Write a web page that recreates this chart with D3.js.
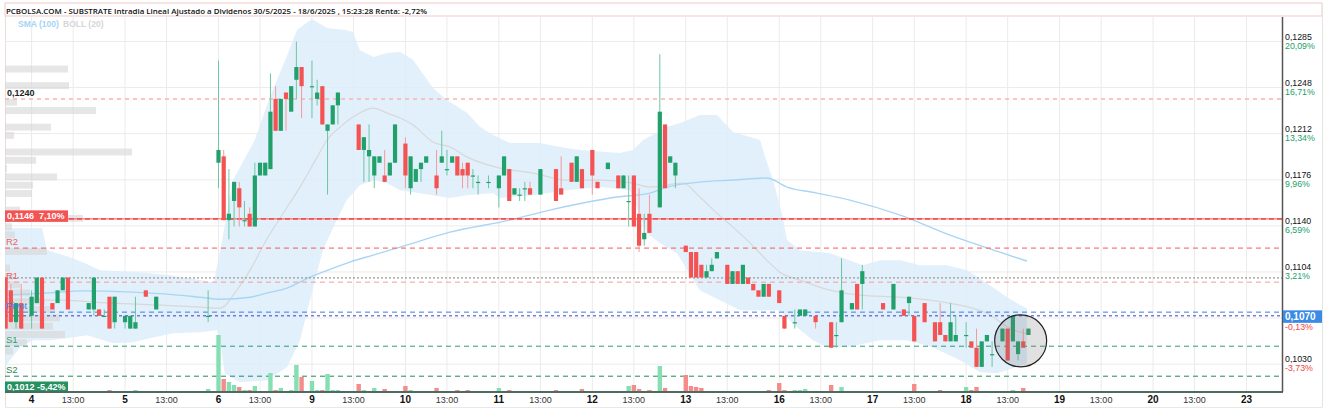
<!DOCTYPE html>
<html><head><meta charset="utf-8">
<script src="https://cdn.jsdelivr.net/npm/d3@7"></script>
<style>body{margin:0;background:#fff}svg{display:block}</style></head>
<body><svg id="c" width="1326" height="411"></svg>
<script>
// ---------- DATA ----------
const titleText = "PCBOLSA.COM - SUBSTRATE Intradia Lineal Ajustado a Dividenos 30/5/2025 - 18/6/2025 , 15:23:28 Renta: -2,72%";
const dayLabels = ["4","5","6","9","10","11","12","13","16","17","18","19","20","23"];
const slotsPerDay = 18;
const midLabel = "13:00";
const yTicks = [0.12850,0.12489,0.12128,0.11766,0.11405,0.11044,0.10683,0.10321];
const yTickLabels = ["0,1285","0,1248","0,1212","0,1176","0,1140","0,1104","0,1068","0,1030"];
const yTickPct = ["20,09%","16,71%","13,34%","9,96%","6,59%","3,21%","-0,13%","-3,73%"];
// candles: [dayIndex, slot(30 min), open, high, low, close, volume(k)]
const candles = [
[-1,13,0.1100,0.1100,0.1060,0.1060,20],[-1,14,0.1090,0.1095,0.1065,0.1065,10],[-1,15,0.1065,0.1080,0.1060,0.1080,10],[-1,16,0.1080,0.1095,0.1060,0.1060,20],
[0,0,0.1070,0.1090,0.1060,0.1085,10],[0,1,0.1080,0.1100,0.1080,0.1100,10],[0,2,0.1100,0.1100,0.1060,0.1060,10],[0,4,0.1080,0.1080,0.1075,0.1075,10],
[0,5,0.1080,0.1090,0.1080,0.1090,10],[0,6,0.1090,0.1100,0.1090,0.1100,10],[0,7,0.1100,0.1100,0.1075,0.1075,10],[0,11,0.1075,0.1080,0.1075,0.1080,10],
[0,12,0.1075,0.1100,0.1070,0.1100,10],[0,13,0.1075,0.1075,0.1070,0.1070,10],[0,14,0.1070,0.1075,0.1070,0.1070,5],[0,15,0.1085,0.1085,0.1060,0.1060,20],
[0,16,0.1065,0.1085,0.1060,0.1085,10],
[1,0,0.1065,0.1070,0.1060,0.1070,10],[1,1,0.1060,0.1070,0.1060,0.1070,10],[1,2,0.1060,0.1085,0.1060,0.1065,20],[1,4,0.1090,0.1090,0.1085,0.1085,10],
[1,6,0.1075,0.1085,0.1075,0.1085,10],[1,16,0.1070,0.1090,0.1065,0.1070,30],
[2,0,0.1190,0.1270,0.1170,0.1200,570],[2,1,0.1195,0.1200,0.1145,0.1145,130],[2,2,0.1145,0.1185,0.1130,0.1150,100],[2,3,0.1160,0.1175,0.1140,0.1175,70],
[2,4,0.1170,0.1175,0.1140,0.1155,50],[2,5,0.1145,0.1160,0.1140,0.1145,20],[2,6,0.1150,0.1155,0.1140,0.1140,20],[2,7,0.1140,0.1190,0.1140,0.1180,60],
[2,8,0.1180,0.1190,0.1180,0.1190,10],[2,9,0.1180,0.1190,0.1180,0.1190,10],[2,10,0.1185,0.1260,0.1185,0.1230,190],[2,11,0.1240,0.1250,0.1215,0.1215,20],
[2,12,0.1215,0.1240,0.1215,0.1240,40],[2,13,0.1245,0.1245,0.1215,0.1240,10],[2,14,0.1230,0.1250,0.1230,0.1250,20],[2,15,0.1255,0.1285,0.1240,0.1265,270],
[2,16,0.1265,0.1265,0.1225,0.1250,150],
[3,0,0.1250,0.1270,0.1225,0.1250,110],[3,1,0.1240,0.1255,0.1235,0.1245,20],[3,2,0.1250,0.1250,0.1220,0.1220,20],[3,3,0.1215,0.1220,0.1165,0.1220,180],
[3,4,0.1220,0.1235,0.1220,0.1235,20],[3,5,0.1235,0.1245,0.1220,0.1245,20],[3,9,0.1220,0.1220,0.1200,0.1200,80],[3,10,0.1200,0.1210,0.1175,0.1210,20],
[3,11,0.1195,0.1220,0.1175,0.1200,10],[3,12,0.1180,0.1195,0.1170,0.1195,40],[3,13,0.1190,0.1195,0.1190,0.1195,10],[3,14,0.1180,0.1200,0.1175,0.1175,30],
[3,15,0.1180,0.1190,0.1180,0.1190,10],[3,16,0.1190,0.1220,0.1190,0.1220,10],
[4,0,0.1205,0.1210,0.1170,0.1180,60],[4,1,0.1170,0.1195,0.1165,0.1195,20],[4,2,0.1175,0.1185,0.1175,0.1185,10],[4,3,0.1185,0.1190,0.1175,0.1190,10],
[4,4,0.1190,0.1195,0.1190,0.1195,10],[4,6,0.1180,0.1200,0.1165,0.1170,40],[4,7,0.1190,0.1215,0.1190,0.1195,10],[4,8,0.1185,0.1200,0.1180,0.1185,10],
[4,9,0.1190,0.1195,0.1190,0.1195,10],[4,10,0.1195,0.1195,0.1180,0.1180,20],[4,11,0.1185,0.1190,0.1170,0.1180,10],[4,12,0.1190,0.1190,0.1170,0.1180,20],
[4,13,0.1180,0.1185,0.1170,0.1180,10],[4,14,0.1175,0.1180,0.1165,0.1175,10],[4,16,0.1175,0.1180,0.1170,0.1175,10],
[5,0,0.1170,0.1180,0.1155,0.1180,40],[5,1,0.1180,0.1195,0.1180,0.1195,10],[5,2,0.1185,0.1185,0.1160,0.1160,20],[5,3,0.1165,0.1170,0.1165,0.1170,10],
[5,4,0.1165,0.1170,0.1160,0.1165,10],[5,5,0.1170,0.1175,0.1160,0.1170,10],[5,6,0.1170,0.1175,0.1165,0.1165,10],[5,8,0.1165,0.1185,0.1165,0.1185,10],
[5,11,0.1185,0.1185,0.1160,0.1160,20],[5,12,0.1170,0.1195,0.1165,0.1165,10],[5,14,0.1190,0.1190,0.1175,0.1175,10],[5,15,0.1175,0.1195,0.1175,0.1195,10],
[5,16,0.1185,0.1185,0.1170,0.1170,30],
[6,0,0.1200,0.1200,0.1165,0.1180,10],[6,1,0.1175,0.1175,0.1170,0.1170,10],[6,3,0.1185,0.1190,0.1185,0.1190,10],[6,5,0.1180,0.1180,0.1170,0.1170,10],
[6,6,0.1170,0.1180,0.1170,0.1180,10],[6,7,0.1160,0.1180,0.1140,0.1160,60],[6,8,0.1180,0.1180,0.1140,0.1140,70],[6,9,0.1150,0.1170,0.1120,0.1125,30],
[6,10,0.1130,0.1150,0.1125,0.1135,10],[6,11,0.1150,0.1165,0.1135,0.1135,20],[6,13,0.1155,0.1275,0.1155,0.1230,260],[6,14,0.1220,0.1220,0.1170,0.1170,40],
[6,15,0.1190,0.1195,0.1190,0.1195,10],[6,16,0.1180,0.1190,0.1170,0.1190,10],
[7,0,0.1125,0.1125,0.1120,0.1120,170],[7,1,0.1120,0.1120,0.1100,0.1100,60],[7,2,0.1120,0.1120,0.1100,0.1100,50],[7,3,0.1110,0.1110,0.1100,0.1100,40],
[7,4,0.1100,0.1110,0.1100,0.1105,10],[7,5,0.1105,0.1115,0.1105,0.1110,10],[7,6,0.1115,0.1120,0.1115,0.1120,10],[7,8,0.1110,0.1110,0.1095,0.1095,10],
[7,9,0.1095,0.1105,0.1095,0.1105,10],[7,10,0.1105,0.1105,0.1095,0.1095,10],[7,11,0.1095,0.1110,0.1095,0.1110,10],[7,12,0.1100,0.1100,0.1095,0.1095,10],
[7,13,0.1095,0.1095,0.1090,0.1090,10],[7,14,0.1090,0.1090,0.1085,0.1085,10],[7,15,0.1085,0.1095,0.1085,0.1095,10],[7,16,0.1095,0.1095,0.1085,0.1085,20],
[8,0,0.1090,0.1090,0.1080,0.1080,90],[8,1,0.1070,0.1070,0.1060,0.1060,20],[8,3,0.1065,0.1075,0.1060,0.1065,20],[8,4,0.1070,0.1075,0.1070,0.1075,20],
[8,5,0.1070,0.1075,0.1070,0.1075,30],[8,7,0.1070,0.1070,0.1060,0.1065,10],[8,10,0.1065,0.1065,0.1045,0.1045,70],[8,11,0.1055,0.1065,0.1045,0.1055,10],
[8,12,0.1065,0.1115,0.1065,0.1090,50],[8,14,0.1075,0.1080,0.1075,0.1080,10],[8,15,0.1095,0.1095,0.1075,0.1075,10],[8,16,0.1095,0.1110,0.1075,0.1105,10],
[9,2,0.1080,0.1080,0.1075,0.1075,10],[9,4,0.1075,0.1095,0.1075,0.1095,10],[9,6,0.1075,0.1075,0.1070,0.1070,10],[9,7,0.1080,0.1085,0.1070,0.1085,10],
[9,8,0.1070,0.1070,0.1050,0.1050,80],[9,10,0.1080,0.1080,0.1065,0.1065,10],[9,12,0.1065,0.1065,0.1050,0.1050,10],[9,13,0.1065,0.1080,0.1055,0.1055,20],
[9,14,0.1055,0.1055,0.1050,0.1050,10],[9,15,0.1050,0.1080,0.1050,0.1065,10],[9,16,0.1050,0.1070,0.1050,0.1055,10],
[10,0,0.1055,0.1065,0.1045,0.1055,50],[10,1,0.1050,0.1050,0.1045,0.1045,20],[10,2,0.1045,0.1060,0.1030,0.1030,50],[10,3,0.1030,0.1050,0.1030,0.1050,10],
[10,4,0.1050,0.1055,0.1050,0.1055,10],[10,5,0.1040,0.1050,0.1030,0.1040,10],[10,7,0.1050,0.1060,0.1050,0.1060,10],[10,8,0.1060,0.1060,0.1035,0.1035,10],
[10,9,0.1050,0.1070,0.1050,0.1070,20],[10,10,0.1040,0.1050,0.1035,0.1050,10],[10,11,0.1050,0.1060,0.1045,0.1045,40],[10,12,0.1055,0.1060,0.1055,0.1060,10]
];
// indicator series: [time in 30-min slots from day "4", price]
const bollUpper = [[-5.1,0.11388],[2.0,0.11388],[3.0,0.11215],[7.4,0.1116],[10.3,0.11113],[13.2,0.11058],[20.9,0.11042],[26.7,0.11019],[32.4,0.1098],[35.1,0.10964],[36.6,0.1127],[38.8,0.11764],[43.0,0.12078],[45.9,0.12415],[49.1,0.12728],[51.1,0.1294],[54.0,0.13026],[56.9,0.12956],[60.4,0.1294],[61.9,0.12924],[63.2,0.12783],[65.8,0.12728],[68.5,0.1276],[71.0,0.12768],[73.5,0.12705],[77.3,0.12485],[80.0,0.12391],[83.9,0.12289],[86.4,0.1218],[88.9,0.12117],[92.1,0.12054],[97.9,0.12054],[101.8,0.12023],[105.6,0.11999],[113.3,0.11976],[115.8,0.11999],[117.8,0.12078],[122.4,0.1218],[125.5,0.12219],[128.7,0.12274],[132.0,0.12274],[135.1,0.1214],[140.3,0.12078],[141.3,0.11944],[142.8,0.11764],[144.5,0.11505],[145.5,0.11294],[148.0,0.11215],[153.8,0.11191],[160.1,0.11097],[163.4,0.11136],[167.3,0.11136],[171.1,0.11097],[176.3,0.11097],[180.2,0.11058],[184.0,0.10956],[187.9,0.10846],[190.4,0.10784],[191.7,0.1076]];
const bollLower = [[-5.1,0.10297],[-4.2,0.10352],[-2.2,0.10454],[0.3,0.10509],[3.5,0.10509],[6.8,0.10525],[10.7,0.10548],[15.7,0.10485],[19.5,0.10493],[22.8,0.10525],[27.2,0.10564],[32.4,0.10572],[35.7,0.10588],[36.3,0.10509],[37.2,0.1025],[40.1,0.1018],[45.3,0.10195],[49.2,0.10297],[51.7,0.10509],[53.6,0.10823],[56.1,0.11215],[58.1,0.11395],[60.7,0.11607],[63.3,0.11725],[66.1,0.11764],[68.5,0.1174],[71.0,0.11685],[77.3,0.11646],[80.6,0.11623],[83.9,0.11646],[88.9,0.11662],[90.2,0.11623],[96.6,0.11646],[103.1,0.11685],[109.5,0.11709],[115.3,0.11685],[118.5,0.11348],[121.0,0.1127],[124.3,0.11191],[128.7,0.10901],[136.4,0.10744],[144.1,0.10744],[147.4,0.1061],[150.5,0.10509],[153.2,0.10454],[157.0,0.10454],[163.4,0.10509],[168.6,0.10509],[173.6,0.10454],[178.8,0.10352],[182.7,0.10258],[186.0,0.1025],[189.0,0.1029],[191.7,0.10329]];
const bollMid = [[-5.1,0.10823],[5.5,0.10823],[15.1,0.10800],[24.7,0.10784],[32.4,0.10768],[36.3,0.1076],[39.5,0.1090],[42.1,0.11060],[45.3,0.1130],[48.4,0.11500],[51.7,0.11709],[55.0,0.11944],[56.9,0.12078],[59.4,0.12179],[61.9,0.12258],[65.8,0.12328],[68.5,0.12289],[71.0,0.1225],[73.5,0.12195],[77.3,0.12062],[80.6,0.12023],[83.9,0.11944],[90.2,0.11858],[96.6,0.11819],[103.1,0.11764],[109.5,0.11764],[115.8,0.1174],[119.1,0.11709],[125.5,0.1174],[128.7,0.11631],[132.0,0.11505],[135.1,0.11395],[138.4,0.1127],[141.6,0.11137],[144.1,0.11042],[148.0,0.1098],[153.8,0.10901],[159.5,0.10862],[167.3,0.10846],[173.0,0.10823],[178.8,0.10784],[184.0,0.10720],[189.0,0.10590],[191.7,0.10560]];
const sma100 = [[-5.1,0.10862],[3.5,0.1088],[9.9,0.10896],[19.5,0.10886],[26.1,0.1087],[32.4,0.10846],[36.3,0.1083],[42.1,0.10846],[45.3,0.10878],[49.2,0.10917],[53.6,0.11003],[58.1,0.11074],[61.3,0.11121],[65.8,0.11176],[71.0,0.11239],[80.6,0.11356],[92.1,0.1145],[99.8,0.11529],[106.2,0.11584],[112.7,0.11631],[119.1,0.11662],[122.4,0.11709],[128.7,0.11748],[135.1,0.11764],[141.6,0.1178],[145.5,0.11709],[151.3,0.11662],[157.6,0.11607],[167.3,0.11489],[176.9,0.11332],[186.5,0.11199],[191.7,0.11129]];
// pivot levels
const levelNames = ["R2","R1","Pivot","S1","S2"];
const levelValues = [0.11231,0.10964,0.10729,0.10462,0.10227];
const levelColors = ["#f45b5b","#f45b5b","#3b7fe0","#2e9e6e","#1f8a5c"];
const prevCloseLevel = 0.10998;
const maxLevel = 0.1240, maxLabel = "0,1240";
const resistLevel = 0.1146, resistLabel = ["0,1146","7,10%"];
const minLevel = 0.1012, minLabel = ["0,1012","-5,42%"];
const lastPrice = 0.1070, lastLabel = "0,1070";
// volume profile (price bin centre, relative volume)
const profilePrice = [0.12634,0.12569,0.12504,0.12439,0.12374,0.12309,0.12244,0.12179,0.12114,0.12049,0.11984,0.11919,0.11854,0.11789,0.11724,0.11659,0.11594,0.11529,0.11464,0.11399,0.11334,0.11269,0.11204,0.11139,0.11074,0.11009,0.10944,0.10879,0.10814,0.10749,0.10684,0.10619,0.10554,0.10489,0.10424];
const profileVol   = [63,0,64,0,12,91,0,46,9,0,127,31,2,52,28,27,1,15,78,7,10,0,42,0,5,8,15,25,40,50,55,48,60,22,8];
const focus = {slot:190.5, price:0.10504};

// ---------- LAYOUT ----------
const X0=5, X1=1282, Y0=17, Y1=392;
const svg = d3.select("#c");
const x = d3.scaleLinear().domain([0, 13*slotsPerDay]).range([31.6, 1246.5]);
const y = d3.scaleLinear().domain([yTicks[yTicks.length-1], yTicks[0]]).range([364.2, 41.5]);
const vScale = d3.scaleLinear().domain([0, 600]).range([Y1, Y1-60]);
const pScale = d3.scaleLinear().domain([0, 130]).range([X0, X0+130]);
const pos = d => d[0]*slotsPerDay + d[1];
const GREEN="#22a06b", RED="#f45353";

svg.append("rect").attr("width",1326).attr("height",411).attr("fill","#fff");
svg.append("defs").append("clipPath").attr("id","plot").append("rect")
  .attr("x",X0).attr("y",Y0).attr("width",X1-X0).attr("height",Y1-Y0);

// frame
svg.append("rect").attr("x",X0).attr("y",3).attr("width",1322-X0).attr("height",13)
  .attr("fill","none").attr("stroke","#f3c9c9");
svg.append("line").attr("x1",1322.5).attr("x2",1322.5).attr("y1",3).attr("y2",407).attr("stroke","#e4e4e4");
svg.append("line").attr("x1",X0).attr("x2",1322.5).attr("y1",407.5).attr("y2",407.5).attr("stroke","#e8e8e8");
svg.append("line").attr("x1",X0+0.5).attr("x2",X0+0.5).attr("y1",16).attr("y2",407).attr("stroke","#f0dada");

const plot = svg.append("g").attr("clip-path","url(#plot)");
// grid
const xTickPos = [];
dayLabels.forEach((d,i)=>{ xTickPos.push({s:i*slotsPerDay, t:d, bold:true}); if(i<dayLabels.length-1) xTickPos.push({s:i*slotsPerDay+8, t:midLabel, bold:false}); });
plot.selectAll(".vg").data(xTickPos).join("line").attr("x1",d=>x(d.s)).attr("x2",d=>x(d.s))
  .attr("y1",Y0).attr("y2",Y1).attr("stroke","#ebebeb");
plot.selectAll(".hg").data(yTicks).join("line").attr("x1",X0).attr("x2",X1)
  .attr("y1",d=>y(d)).attr("y2",d=>y(d)).attr("stroke","#ebebeb");

// bollinger band
const ln = d3.line().x(d=>x(d[0])).y(d=>y(d[1]));
plot.append("path").attr("d", ln(bollUpper.concat(bollLower.slice().reverse()))+"Z")
  .attr("fill","#dcedfa").attr("opacity",0.85);

// volume profile (drawn over the band, semi-transparent)
const binH = 0.00027;
plot.selectAll(".pf").data(profilePrice.map((p,i)=>[p,profileVol[i]]).filter(d=>d[1]>0)).join("rect")
  .attr("x",X0).attr("y",d=>y(d[0]+binH)).attr("width",d=>pScale(d[1])-X0)
  .attr("height",d=>y(d[0]-binH)-y(d[0]+binH)).attr("fill","#d6d6d6").attr("opacity",0.6);

plot.append("path").attr("d", ln.curve(d3.curveMonotoneX)(bollMid)).attr("fill","none").attr("stroke","#d8d8d8").attr("stroke-width",1.2);
plot.append("path").attr("d", ln.curve(d3.curveMonotoneX)(sma100)).attr("fill","none").attr("stroke","#a9d5f5").attr("stroke-width",1.4);

// level lines
const hl = (v,col,dash,w)=>plot.append("line").attr("x1",X0).attr("x2",X1).attr("y1",y(v)).attr("y2",y(v))
  .attr("stroke",col).attr("stroke-dasharray",dash).attr("stroke-width",w||1);
hl(maxLevel,"#f8b3b3","4,4",1.5);
hl(resistLevel,"#f45353",null,1);
hl(resistLevel,"#f45353","5,3",1.6);
hl(prevCloseLevel,"#9a9a9a","2,2",1.3);
levelValues.forEach((v,i)=>hl(v, i===1?"#f79a9a":levelColors[i], "5,4", 1));
hl(lastPrice,"#3b3bd0","3,3",1);

// volume bars
plot.selectAll(".vb").data(candles).join("rect")
  .attr("x",d=>x(pos(d))-2.2).attr("width",4.4)
  .attr("y",d=>vScale(d[6])).attr("height",d=>Y1-vScale(d[6]))
  .attr("fill",d=>d[5]>=d[2]?"#86dfb3":"#f68b8b");

// candles
const cg = plot.selectAll(".cd").data(candles).join("g");
cg.append("line").attr("x1",d=>x(pos(d))).attr("x2",d=>x(pos(d)))
  .attr("y1",d=>y(d[3])).attr("y2",d=>y(d[4]))
  .attr("stroke",d=>d[5]>=d[2]?"#6cc7a0":"#f59a9a").attr("stroke-width",1);
cg.append("rect").attr("x",d=>x(pos(d))-2.1).attr("width",4.2)
  .attr("y",d=>y(Math.max(d[2],d[5])))
  .attr("height",d=>Math.max(1.2, y(Math.min(d[2],d[5]))-y(Math.max(d[2],d[5]))))
  .attr("fill",d=>d[5]>=d[2]?GREEN:RED);

// focus circle
plot.append("circle").attr("cx",x(focus.slot)).attr("cy",y(focus.price)).attr("r",26)
  .attr("fill","rgba(120,120,120,0.22)").attr("stroke","#222").attr("stroke-width",1.2);

// left labels
const F = "'Liberation Sans', Arial, sans-serif";
svg.append("rect").attr("x",X0+1).attr("y",y(maxLevel)-10).attr("width",28).attr("height",9).attr("fill","#fff").attr("opacity",0.8);
svg.append("text").attr("x",X0+2).attr("y",y(maxLevel)-3).text(maxLabel).attr("font-family",F).attr("font-size",9).attr("font-weight",600).attr("fill","#222");
svg.append("rect").attr("x",X0).attr("y",y(resistLevel)-8.5).attr("width",63).attr("height",11.5).attr("fill","#f45353");
svg.append("text").attr("x",X0+2).attr("y",y(resistLevel)+0.5).text(resistLabel[0]+"  "+resistLabel[1]).attr("font-family",F).attr("font-size",9).attr("font-weight",700).attr("fill","#fff").attr("xml:space","preserve");
svg.append("rect").attr("x",X0).attr("y",381.5).attr("width",63).attr("height",10).attr("fill","#24915f");
svg.append("text").attr("x",X0+2).attr("y",389.5).text(minLabel[0]+" "+minLabel[1]).attr("font-family",F).attr("font-size",9).attr("font-weight",700).attr("fill","#fff");
levelNames.forEach((n,i)=>svg.append("text").attr("x",X0+1).attr("y",y(levelValues[i])-3)
  .text(n).attr("font-family",F).attr("font-size",9.5).attr("fill",levelColors[i]));

// axes
svg.append("line").attr("x1",X0).attr("x2",X1+1).attr("y1",Y1).attr("y2",Y1).attr("stroke","#4d6b61").attr("stroke-width",2);
svg.append("line").attr("x1",X1+0.5).attr("x2",X1+0.5).attr("y1",Y0).attr("y2",Y1).attr("stroke","#555").attr("stroke-width",1.5);
svg.selectAll(".xl").data(xTickPos).join("text").attr("x",d=>x(d.s)).attr("y",403)
  .attr("text-anchor","middle").text(d=>d.t).attr("font-family",F)
  .attr("font-size",d=>d.bold?10:9).attr("font-weight",d=>d.bold?700:400).attr("fill",d=>d.bold?"#111":"#333");
yTicks.forEach((v,i)=>{
  const hidden = Math.abs(v-lastPrice) < 0.0002;
  if(!hidden) svg.append("text").attr("x",X1+3).attr("y",y(v)-2).text(yTickLabels[i]).attr("font-family",F).attr("font-size",8.8).attr("fill","#111");
  svg.append("text").attr("x",X1+3).attr("y",y(v)+(hidden?12:7)).text(yTickPct[i]).attr("font-family",F).attr("font-size",8.8)
    .attr("fill",yTickPct[i].startsWith("-")?"#f04545":"#23a06a");
});
svg.append("rect").attr("x",X1+1).attr("y",y(lastPrice)-5.5).attr("width",39).attr("height",12.5).attr("fill","#3a8ae6");
svg.append("text").attr("x",X1+3).attr("y",y(lastPrice)+4.5).text(lastLabel).attr("font-family",F).attr("font-size",10).attr("font-weight",700).attr("fill","#fff");

// title + legend
const tt = svg.append("text").attr("x",6).attr("y",13.5).text(titleText).attr("font-family","'Open Sans', sans-serif").attr("font-size",10).attr("font-weight",600).attr("fill","#111");
const tw = tt.node().getComputedTextLength(); tt.attr("font-size", 10*422/tw);
svg.append("text").attr("x",18).attr("y",27).text("SMA (100)").attr("font-family",F).attr("font-size",8.5).attr("font-weight",700).attr("fill","#a6d3f7");
svg.append("text").attr("x",63).attr("y",27).text("BOLL (20)").attr("font-family",F).attr("font-size",8.5).attr("font-weight",700).attr("fill","#d6d6d6");
</script></body></html>
